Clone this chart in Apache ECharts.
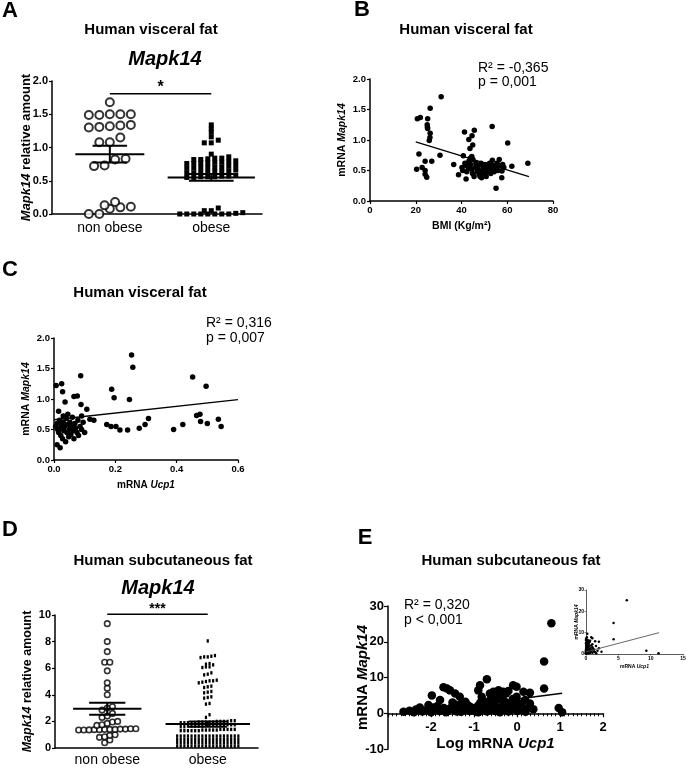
<!DOCTYPE html>
<html>
<head>
<meta charset="utf-8">
<script src="https://cdn.jsdelivr.net/npm/echarts@6/dist/echarts.min.js"></script>
<style>
  html, body { margin: 0; padding: 0; background: #fff; }
  #chart { width: 699px; height: 776px; }
</style>
</head>
<body>
<div id="chart"></div>
<script>
var FONT = 'Liberation Sans, Arial, sans-serif';

// ---- data ----
var groupNames = ['non obese', 'obese'];

// A: visceral fat, Mapk14 relative amount
var visceralNonObese = [1.68, 1.50, 1.50, 1.49, 1.50, 1.49, 1.33, 1.31, 1.32, 1.30, 1.34,
  1.15, 1.08, 1.08, 0.83, 0.82, 0.72, 0.73, 0.18, 0.08, 0.13, 0.10, 0.11, 0.0, 0.0];
var visceralObese = [0, 0, 0, 0, 0, 0, 0, 0, 0.01, 0.02, 0.05, 0.05, 0.09,
  0.55, 0.55, 0.56, 0.56, 0.56, 0.57, 0.57, 0.58,
  0.62, 0.62, 0.63, 0.63, 0.64, 0.64, 0.65, 0.66,
  0.69, 0.69, 0.70, 0.70, 0.71, 0.71, 0.72, 0.73,
  0.76, 0.76, 0.77, 0.77, 0.78, 0.78, 0.79, 0.80,
  0.82, 0.83, 0.84, 0.86, 0.82, 0.84, 0.90,
  1.07, 1.07, 1.11, 1.16, 1.23, 1.28, 1.34];
var visceralMean = [0.90, 0.55];
var visceralSem = [0.125, 0.05];

// B: BMI vs mRNA Mapk14
var bmiPoints = [
  [20.4, 0.52], [20.7, 1.35], [21.4, 0.77], [22.0, 1.37], [22.8, 0.55], [24.1, 0.65], [24.1, 0.50],
  [24.1, 0.44], [24.8, 0.39], [25.0, 1.25], [25.1, 1.21], [25.2, 1.19], [25.2, 1.35], [25.9, 0.99],
  [26.2, 1.04], [26.3, 1.11], [26.3, 1.52], [27.0, 0.65], [30.6, 0.75], [31.1, 1.71],
  [36.6, 0.60], [38.7, 0.43], [40.2, 0.55], [40.5, 0.50], [40.8, 0.74], [41.3, 1.13], [41.5, 0.62],
  [42.0, 0.36], [42.0, 0.58], [42.3, 0.48], [43.0, 0.53], [43.2, 1.01], [43.2, 0.65], [43.7, 0.86],
  [43.8, 0.70], [44.0, 0.60], [44.5, 0.73], [44.5, 0.52], [44.6, 1.07], [44.8, 0.45], [44.9, 0.92],
  [45.0, 0.68], [45.5, 0.40], [45.6, 1.16], [46.0, 0.55], [46.3, 0.62], [46.8, 0.48], [47.0, 0.52],
  [47.5, 0.58], [47.8, 0.44], [48.1, 0.40], [48.5, 0.62], [48.8, 0.38], [49.0, 0.50], [49.5, 0.55],
  [50.0, 0.45], [50.3, 0.60], [50.8, 0.40], [51.0, 0.52], [51.5, 0.48], [52.0, 0.57], [52.3, 0.62],
  [52.8, 0.45], [53.0, 0.52], [53.4, 1.22], [53.5, 0.67], [54.0, 0.58], [54.3, 0.48], [55.0, 0.55],
  [55.1, 0.21], [55.5, 0.62], [56.0, 0.50], [56.5, 0.68], [57.0, 0.58], [57.6, 0.38], [57.7, 0.49],
  [58.0, 0.60], [58.5, 0.55], [60.2, 0.95], [62.0, 0.57], [69.0, 0.62]
];
var bmiFit = [[20, 0.97], [69.5, 0.40]];

// C: mRNA Ucp1 vs mRNA Mapk14
var ucp1Points = [
  [0.253, 1.72], [0.257, 1.52], [0.452, 1.36], [0.601, 1.35], [0.087, 1.38], [0.007, 1.22],
  [0.025, 1.25], [0.028, 1.12], [0.036, 0.95], [0.065, 1.04], [0.076, 1.05], [0.088, 0.91],
  [0.107, 0.83], [0.188, 1.16], [0.196, 1.02], [0.246, 0.99], [0.496, 1.21], [0.117, 0.67],
  [0.172, 0.58], [0.186, 0.55], [0.202, 0.55], [0.215, 0.49], [0.308, 0.68], [0.297, 0.58],
  [0.278, 0.52], [0.465, 0.73], [0.476, 0.75], [0.478, 0.63], [0.500, 0.60], [0.536, 0.67],
  [0.545, 0.55], [0.240, 0.49], [0.390, 0.50], [0.420, 0.58],
  [0.005, 0.55], [0.010, 0.60], [0.012, 0.50], [0.015, 0.45], [0.018, 0.65], [0.020, 0.52],
  [0.022, 0.40], [0.025, 0.58], [0.028, 0.35], [0.030, 0.62], [0.032, 0.48], [0.035, 0.55],
  [0.038, 0.30], [0.040, 0.68], [0.042, 0.45], [0.045, 0.58], [0.048, 0.38], [0.050, 0.50],
  [0.052, 0.62], [0.055, 0.42], [0.058, 0.55], [0.060, 0.70], [0.062, 0.48], [0.065, 0.35],
  [0.068, 0.60], [0.070, 0.52], [0.075, 0.45], [0.078, 0.65], [0.080, 0.40], [0.085, 0.55],
  [0.090, 0.50], [0.095, 0.62], [0.100, 0.45], [0.010, 0.25], [0.020, 0.20], [0.030, 0.72],
  [0.045, 0.75], [0.015, 0.80], [0.090, 0.72], [0.130, 0.65]
];
var ucp1Fit = [[0, 0.66], [0.6, 0.99]];

// D: subcutaneous fat, Mapk14 relative amount
var subcutNonObese = [9.35, 8.0, 7.25, 6.45, 6.45, 5.8, 4.9, 4.5, 4.0, 3.1, 3.0, 2.85, 2.6, 2.4, 2.3,
  2.0, 1.95, 1.85, 1.75, 1.7, 1.45, 1.42, 1.4, 1.4, 1.38, 1.38, 1.36, 1.35, 1.35, 1.4, 1.42, 1.45,
  1.0, 0.95, 0.85, 0.8, 0.6, 0.4];
var subcutObese = [8.05,
  6.95, 6.9, 6.8, 6.85, 6.85, 6.35, 6.3, 6.25, 6.1, 6.05, 6.1, 5.65, 5.55, 5.5,
  5.1, 5.05, 5.0, 4.95, 4.9, 5.05, 4.65, 4.6, 4.55, 4.25, 4.2, 4.15, 3.85, 3.8, 3.75, 3.35, 3.3,
  2.5, 2.3,
  2.05, 2.05, 2.0, 2.0, 2.0, 2.0, 1.95, 1.95, 1.95, 1.95, 1.95, 1.9, 1.9, 1.9, 1.9, 1.9,
  1.75, 1.75, 1.75, 1.7, 1.7, 1.7, 1.7, 1.7, 1.7, 1.65, 1.65, 1.65, 1.65, 1.65, 1.6, 1.6,
  1.4, 1.4, 1.4, 1.4, 1.4, 1.35, 1.35, 1.35, 1.35, 1.35, 1.3, 1.3, 1.3, 1.3, 1.3, 1.3,
  0.9, 0.9, 0.9, 0.9, 0.9, 0.9, 0.9, 0.9, 0.9, 0.9, 0.9, 0.9, 0.9, 0.9, 0.9, 0.9, 0.9, 0.9,
  0.65, 0.65, 0.65, 0.65, 0.65, 0.65, 0.65, 0.65, 0.65, 0.65, 0.65, 0.65, 0.65, 0.65, 0.65, 0.65, 0.65, 0.65,
  0.4, 0.4, 0.4, 0.4, 0.4, 0.4, 0.4, 0.4, 0.4, 0.4, 0.4, 0.4, 0.4, 0.4, 0.4, 0.4, 0.4, 0.4,
  0.15, 0.15, 0.15, 0.15, 0.15, 0.15, 0.15, 0.15, 0.15, 0.15, 0.15, 0.15, 0.15, 0.15, 0.15, 0.15, 0.15, 0.15];
var subcutMean = [2.95, 1.80];
var subcutSem = [0.45, 0.20];

// E: Log mRNA Ucp1 vs mRNA Mapk14 (inset uses linear Ucp1)
var logUcp1Points = [
  [0.80, 25.2], [0.63, 14.5], [0.63, 6.9], [0.97, 1.5], [1.05, 0.3],
  [-0.70, 9.5], [-0.86, 7.8], [-0.90, 6.4], [-0.82, 4.6], [-0.74, 3.2], [-0.63, 5.5], [-0.55, 6.0],
  [-0.43, 6.4], [-0.32, 6.0], [-0.40, 4.6], [-0.50, 5.2], [-0.60, 4.2], [-0.35, 5.3], [-0.25, 5.6],
  [-0.09, 7.8], [-0.01, 7.4], [-0.01, 4.6], [0.00, 3.2], [0.15, 6.0], [0.30, 5.7], [0.19, 3.7],
  [-0.16, 2.7], [0.30, 2.7], [0.38, 1.1], [-0.20, 6.2], [-0.45, 3.8], [-0.55, 3.0], [-0.65, 2.5],
  [-0.30, 3.5], [-0.10, 4.0], [0.10, 2.0], [0.25, 1.5],
  [-1.71, 7.3], [-1.63, 6.9], [-1.56, 6.4], [-1.98, 5.0], [-1.79, 3.7], [-1.44, 5.5], [-1.33, 4.6],
  [-1.29, 2.7], [-1.09, 1.8], [-2.64, 0.4], [-2.35, 1.05], [-2.26, 1.6], [-2.10, 0.9], [-2.06, 2.3],
  [-1.90, 1.2], [-1.85, 2.0], [-1.70, 1.5], [-1.60, 0.8], [-1.50, 1.9], [-1.45, 1.0], [-1.40, 0.5],
  [-1.20, 1.2], [-1.10, 0.6], [-1.00, 1.4], [-0.95, 0.4], [-0.90, 2.2], [-0.85, 1.0], [-0.80, 1.8],
  [-0.70, 0.5], [-0.60, 1.2], [-0.50, 0.6], [-0.45, 1.5], [-0.40, 0.3], [-0.30, 1.0], [-0.20, 0.5],
  [-0.10, 1.3], [0.00, 0.6], [0.10, 1.0], [0.20, 0.4], [-2.50, 0.7], [-2.40, 0.3], [-2.20, 0.5],
  [-2.00, 0.3], [-1.95, 1.6], [-1.80, 0.6], [-1.75, 1.1], [-1.65, 0.3], [-1.55, 1.4], [-1.35, 1.6],
  [-1.30, 0.4], [-1.25, 0.9], [-1.15, 2.3], [-1.00, 0.8], [-0.90, 0.3], [-0.75, 1.2], [-0.65, 0.8],
  [-0.55, 2.0], [-0.35, 1.8], [-0.25, 2.2], [-0.15, 0.9], [-0.05, 1.8], [0.05, 2.5], [0.15, 0.8],
  [-1.50, 3.0], [-1.45, 2.5], [-0.85, 3.0], [-0.70, 2.2], [-1.20, 3.2]
];
var logUcp1Fit = [[-2.6, -0.1], [1.05, 5.6]];
var insetFit = [[0, 1.0], [11.3, 10]];

var statsB = ['R\u00b2 = -0,365', 'p = 0,001'];
var statsC = ['R\u00b2 = 0,316', 'p = 0,007'];
var statsE = ['R\u00b2 = 0,320', 'p < 0,001'];

// ---- layout ----
var grids = [
  { left: 52, top: 81, width: 210, height: 133 },   // A
  { left: 370, top: 79, width: 183, height: 122 },  // B
  { left: 54, top: 338, width: 184, height: 122 },  // C
  { left: 55, top: 615, width: 203, height: 133 },  // D
  { left: 388, top: 606, width: 215, height: 143 }, // E
  { left: 586, top: 590, width: 97, height: 64 }    // E inset
];
var catMin = [0.43, 0.48], catMax = 2.5;
var eYMin = -10, eYMax = 30;

// column scatter like GraphPad: points binned in rows, spread around the group centre
function swarm(values, center, binPx, stepPx, pxPerX, pxPerY) {
  var sorted = values.slice().sort(function (a, b) { return a - b; });
  var out = [], row = [];
  function flush() {
    row.forEach(function (v, i) {
      out.push([center + (i - (row.length - 1) / 2) * stepPx / pxPerX, v]);
    });
    row = [];
  }
  sorted.forEach(function (v) {
    if (row.length && (v - row[0]) * pxPerY > binPx) flush();
    row.push(v);
  });
  flush();
  return out;
}

var pxXA = grids[0].width / (catMax - catMin[0]), pxYA = grids[0].height / 2;
var pxXD = grids[3].width / (catMax - catMin[1]), pxYD = grids[3].height / 10;

function tickFmt(d) { return function (v) { return v.toFixed(d); }; }

function axisBase(extra) {
  var o = {
    type: 'value',
    nameMoveOverlap: false,
    axisLine: { show: true, onZero: false, lineStyle: { color: '#000', width: 1.5 } },
    axisTick: { show: true, length: 3, lineStyle: { color: '#000', width: 1.2 } },
    splitLine: { show: false },
    axisLabel: { color: '#000', fontFamily: FONT, fontWeight: 'bold', fontSize: 11, margin: 4 },
    nameTextStyle: { color: '#000', fontFamily: FONT, fontWeight: 'bold' }
  };
  for (var k in extra) {
    if (typeof extra[k] === 'object' && o[k] && !Array.isArray(extra[k])) {
      for (var j in extra[k]) o[k][j] = extra[k][j];
    } else o[k] = extra[k];
  }
  return o;
}

function richName(size) {
  return {
    color: '#000', fontFamily: FONT, fontWeight: 'bold', fontSize: size,
    rich: {
      i: { fontStyle: 'italic', fontWeight: 'bold', fontSize: size, fontFamily: FONT, color: '#000' },
      n: { fontWeight: 'bold', fontSize: size, fontFamily: FONT, color: '#000' }
    }
  };
}

var xAxes = [
  axisBase({ gridIndex: 0, min: catMin[0], max: catMax, axisTick: { show: false },
    axisLabel: { customValues: [1, 2], fontWeight: 'normal', fontSize: 14, margin: 7,
      formatter: function (v) { return groupNames[Math.round(v) - 1] || ''; } } }),
  axisBase({ gridIndex: 1, min: 0, max: 80, interval: 20, axisLabel: { fontSize: 9.5 },
    name: 'BMI (Kg/m\u00b2)', nameLocation: 'middle', nameGap: 20,
    nameTextStyle: { fontSize: 10.5 } }),
  axisBase({ gridIndex: 2, min: 0, max: 0.6, interval: 0.2, axisLabel: { fontSize: 9.5, formatter: tickFmt(1) },
    name: '{n|mRNA }{i|Ucp1}', nameLocation: 'middle', nameGap: 20, nameTextStyle: richName(10) }),
  axisBase({ gridIndex: 3, min: catMin[1], max: catMax, axisTick: { show: false },
    axisLabel: { customValues: [1, 2], fontWeight: 'normal', fontSize: 14, margin: 5,
      formatter: function (v) { return groupNames[Math.round(v) - 1] || ''; } } }),
  // x axis of E sits on y = 0: shift it up from the grid bottom by the y = 0 position
  axisBase({ gridIndex: 4, min: -3, max: 2, interval: 1,
    offset: -grids[4].height * (0 - eYMin) / (eYMax - eYMin),
    axisTick: { length: 4 },
    minorTick: { show: true, splitNumber: 10, length: 3, lineStyle: { color: '#000', width: 1 } },
    axisLabel: { fontSize: 13, showMinLabel: false, margin: 8 },
    name: '{n|Log mRNA }{i|Ucp1}', nameLocation: 'middle', nameGap: 23, nameTextStyle: richName(15) }),
  axisBase({ gridIndex: 5, min: 0, max: 15, interval: 5,
    axisLine: { lineStyle: { width: 0.8, color: '#333' } }, axisTick: { length: 1.5, lineStyle: { width: 0.6 } },
    axisLabel: { fontSize: 5, margin: 2 },
    name: '{n|mRNA }{i|Ucp1}', nameLocation: 'middle', nameGap: 10, nameTextStyle: richName(5) })
];

var yAxes = [
  axisBase({ gridIndex: 0, min: 0, max: 2, interval: 0.5, axisLabel: { formatter: tickFmt(1) },
    name: '{i|Mapk14}{n| relative amount}', nameLocation: 'middle', nameGap: 19, nameTextStyle: richName(13) }),
  axisBase({ gridIndex: 1, min: 0, max: 2, interval: 0.5, axisLabel: { fontSize: 9.5, formatter: tickFmt(1) },
    name: '{n|mRNA }{i|Mapk14}', nameLocation: 'middle', nameGap: 22, nameTextStyle: richName(10.5) }),
  axisBase({ gridIndex: 2, min: 0, max: 2, interval: 0.5, axisLabel: { fontSize: 9.5, formatter: tickFmt(1) },
    name: '{n|mRNA }{i|Mapk14}', nameLocation: 'middle', nameGap: 22, nameTextStyle: richName(10.5) }),
  axisBase({ gridIndex: 3, min: 0, max: 10, interval: 2, axisLabel: { fontSize: 11 },
    name: '{i|Mapk14}{n| relative amount}', nameLocation: 'middle', nameGap: 21, nameTextStyle: richName(12.5) }),
  axisBase({ gridIndex: 4, min: eYMin, max: eYMax, interval: 10, axisTick: { length: 4 }, axisLabel: { fontSize: 13 },
    name: '{n|mRNA }{i|Mapk14}', nameLocation: 'middle', nameGap: 18, nameTextStyle: richName(15) }),
  axisBase({ gridIndex: 5, min: 0, max: 30, interval: 10,
    axisLine: { lineStyle: { width: 0.8, color: '#333' } }, axisTick: { length: 1.5, lineStyle: { width: 0.6 } },
    axisLabel: { fontSize: 5, margin: 2 },
    name: '{n|mRNA }{i|Mapk14}', nameLocation: 'middle', nameGap: 7, nameTextStyle: richName(5) })
];

function meanSem(idx, means, sems, halfMean, halfSem) {
  return {
    type: 'custom', xAxisIndex: idx, yAxisIndex: idx, z: 5, silent: true,
    data: means.map(function (m, i) { return [i + 1, m, sems[i], halfMean[i], halfSem[i]]; }),
    renderItem: function (params, api) {
      var x = api.value(0), m = api.value(1), s = api.value(2), hm = api.value(3), hs = api.value(4);
      function seg(a, b) {
        var p = api.coord(a), q = api.coord(b);
        return { type: 'line', shape: { x1: p[0], y1: p[1], x2: q[0], y2: q[1] },
          style: { stroke: '#000', lineWidth: 2 } };
      }
      return { type: 'group', children: [
        seg([x - hm, m], [x + hm, m]),
        seg([x - hs, m + s], [x + hs, m + s]),
        seg([x - hs, m - s], [x + hs, m - s]),
        seg([x, m - s], [x, m + s])
      ] };
    }
  };
}

function sigBar(idx, y, mark, size) {
  return {
    type: 'custom', xAxisIndex: idx, yAxisIndex: idx, z: 5, silent: true,
    data: [[1, 2, y]],
    renderItem: function (params, api) {
      var p = api.coord([api.value(0), api.value(2)]), q = api.coord([api.value(1), api.value(2)]);
      return { type: 'group', children: [
        { type: 'line', shape: { x1: p[0], y1: p[1], x2: q[0], y2: q[1] }, style: { stroke: '#000', lineWidth: 1.5 } },
        { type: 'text', style: { text: mark, x: (p[0] + q[0]) / 2, y: p[1] + 2, align: 'center',
          verticalAlign: 'bottom', font: 'bold ' + size + 'px ' + FONT, fill: '#000' } }
      ] };
    }
  };
}

function scatter(idx, data, size, extra) {
  var s = { type: 'scatter', xAxisIndex: idx, yAxisIndex: idx, data: data, symbolSize: size,
    itemStyle: { color: '#000', opacity: 1 }, silent: true };
  for (var k in extra) s[k] = extra[k];
  return s;
}

function fitLine(idx, data, width, color) {
  return { type: 'line', xAxisIndex: idx, yAxisIndex: idx, data: data, symbol: 'none', silent: true,
    lineStyle: { color: color || '#000', width: width }, z: 4 };
}

var series = [
  // A
  scatter(0, swarm(visceralNonObese, 1, 8, 10.5, pxXA, pxYA), 8,
    { symbol: 'circle', itemStyle: { color: '#fff', borderColor: '#000', borderWidth: 2 } }),
  scatter(0, swarm(visceralObese, 2, 3, 7, pxXA, pxYA), 5, { symbol: 'rect' }),
  meanSem(0, visceralMean, visceralSem, [0.34, 0.43], [0.17, 0.22]),
  sigBar(0, 1.81, '*', 16),
  // B
  scatter(1, bmiPoints, 5.5),
  fitLine(1, bmiFit, 1.3),
  // C
  scatter(2, ucp1Points, 5.5),
  fitLine(2, ucp1Fit, 1.3),
  // D
  scatter(3, swarm(subcutNonObese, 1, 4, 5.2, pxXD, pxYD), 5.5,
    { symbol: 'circle', itemStyle: { color: '#fff', borderColor: '#000', borderWidth: 1.6 } }),
  scatter(3, swarm(subcutObese, 2, 3, 3.6, pxXD, pxYD), [2.2, 3.4], { symbol: 'rect' }),
  meanSem(3, subcutMean, subcutSem, [0.34, 0.42], [0.18, 0.19]),
  sigBar(3, 10.05, '***', 14),
  // E
  scatter(4, logUcp1Points, 8.5),
  fitLine(4, logUcp1Fit, 1.5),
  scatter(5, logUcp1Points.map(function (p) { return [Math.pow(10, p[0]), p[1]]; }), 2.5),
  fitLine(5, insetFit, 0.9, '#555')
];

function txt(x, y, text, font, align) {
  return { type: 'text', x: x, y: y, silent: true,
    style: { text: text, font: font, fill: '#000', align: align || 'center', verticalAlign: 'middle' } };
}
var letterFont = 'bold 22px ' + FONT;
var titleFont = 'bold 15px ' + FONT;
var geneFont = 'italic bold 20px ' + FONT;
var statFont = '14px ' + FONT;

var graphics = [
  txt(10, 11, 'A', letterFont), txt(362, 10, 'B', letterFont), txt(10, 270, 'C', letterFont),
  txt(10, 530, 'D', letterFont), txt(365, 538, 'E', letterFont),
  txt(151, 30, 'Human visceral fat', titleFont), txt(466, 30, 'Human visceral fat', titleFont),
  txt(140, 293, 'Human visceral fat', titleFont),
  txt(163, 561, 'Human subcutaneous fat', titleFont), txt(511, 561, 'Human subcutaneous fat', titleFont),
  txt(165, 59, 'Mapk14', geneFont), txt(158, 588, 'Mapk14', geneFont),
  txt(478, 68, statsB[0], statFont, 'left'), txt(478, 82, statsB[1], statFont, 'left'),
  txt(206, 323, statsC[0], statFont, 'left'), txt(206, 338, statsC[1], statFont, 'left'),
  txt(404, 605, statsE[0], statFont, 'left'), txt(404, 620, statsE[1], statFont, 'left')
];

var chart = echarts.init(document.getElementById('chart'), null, { renderer: 'canvas' });
chart.setOption({
  animation: false,
  backgroundColor: '#fff',
  textStyle: { fontFamily: FONT },
  grid: grids.map(function (g) {
    return { left: g.left, top: g.top, width: g.width, height: g.height, containLabel: false, outerBoundsMode: 'none' };
  }),
  xAxis: xAxes,
  yAxis: yAxes,
  series: series,
  graphic: graphics
});
window.addEventListener('resize', chart.resize);
</script>
</body>
</html>
